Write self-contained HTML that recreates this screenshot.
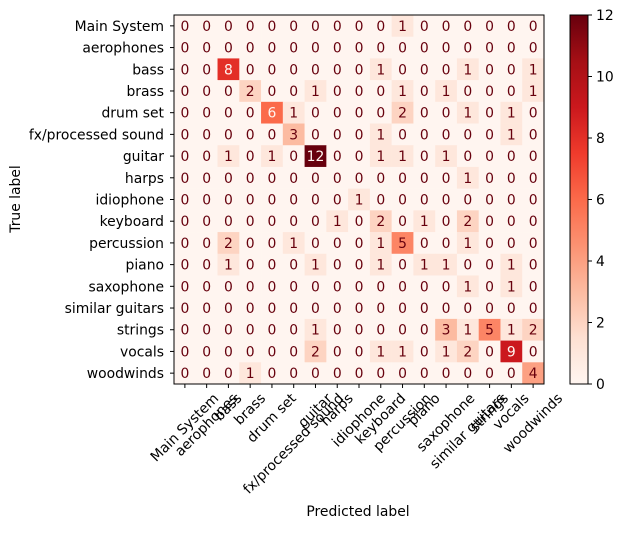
<!DOCTYPE html>
<html><head><meta charset="utf-8"><style>
body{margin:0;background:#fff;}
svg{font-family:"DejaVu Sans","Liberation Sans",sans-serif;}
</style></head><body>
<svg id="chart" width="624" height="529" viewBox="0 0 624 529">
<defs>
<linearGradient id="reds" x1="0" y1="1" x2="0" y2="0">
<stop offset="0" stop-color="#fff5f0"/><stop offset="0.125" stop-color="#fee0d2"/><stop offset="0.25" stop-color="#fcbba1"/><stop offset="0.375" stop-color="#fc9272"/><stop offset="0.5" stop-color="#fb6a4a"/><stop offset="0.625" stop-color="#ef3b2c"/><stop offset="0.75" stop-color="#cb181d"/><stop offset="0.875" stop-color="#a50f15"/><stop offset="1" stop-color="#67000d"/>
</linearGradient>
</defs>
<g id="cells"></g>
<rect x="174" y="15" width="370" height="369" fill="none" stroke="#000" stroke-width="1"/>
<g id="axes"></g>
<text x="358" y="516" text-anchor="middle" font-size="13.9">Predicted label</text>
<text x="0" y="0" text-anchor="middle" font-size="13.9" transform="translate(20,199) rotate(-90)">True label</text>
<rect x="570" y="15" width="18" height="369" fill="url(#reds)" stroke="#000" stroke-width="1"/>
<g id="cbar"></g>
</svg>
<script>
const labels=["Main System","aerophones","bass","brass","drum set","fx/processed sound","guitar","harps","idiophone","keyboard","percussion","piano","saxophone","similar guitars","strings","vocals","woodwinds"];
const matrix=[
[0,0,0,0,0,0,0,0,0,0,1,0,0,0,0,0,0],
[0,0,0,0,0,0,0,0,0,0,0,0,0,0,0,0,0],
[0,0,8,0,0,0,0,0,0,1,0,0,0,1,0,0,1],
[0,0,0,2,0,0,1,0,0,0,1,0,1,0,0,0,1],
[0,0,0,0,6,1,0,0,0,0,2,0,0,1,0,1,0],
[0,0,0,0,0,3,0,0,0,1,0,0,0,0,0,1,0],
[0,0,1,0,1,0,12,0,0,1,1,0,1,0,0,0,0],
[0,0,0,0,0,0,0,0,0,0,0,0,0,1,0,0,0],
[0,0,0,0,0,0,0,0,1,0,0,0,0,0,0,0,0],
[0,0,0,0,0,0,0,1,0,2,0,1,0,2,0,0,0],
[0,0,2,0,0,1,0,0,0,1,5,0,0,1,0,0,0],
[0,0,1,0,0,0,1,0,0,1,0,1,1,0,0,1,0],
[0,0,0,0,0,0,0,0,0,0,0,0,0,1,0,1,0],
[0,0,0,0,0,0,0,0,0,0,0,0,0,0,0,0,0],
[0,0,0,0,0,0,1,0,0,0,0,0,3,1,5,1,2],
[0,0,0,0,0,0,2,0,0,1,1,0,1,2,0,9,0],
[0,0,0,1,0,0,0,0,0,0,0,0,0,0,0,0,4]];
const cbarTicks=[0,2,4,6,8,10,12];
const vmin=0, vmax=12;
const X0=174,Y0=15,W=370,H=369,n=labels.length,cw=W/n,ch=H/n;
const stops=[[0,"#fff5f0"],[0.125,"#fee0d2"],[0.25,"#fcbba1"],[0.375,"#fc9272"],[0.5,"#fb6a4a"],[0.625,"#ef3b2c"],[0.75,"#cb181d"],[0.875,"#a50f15"],[1,"#67000d"]];
function hex(h){return [1,3,5].map(i=>parseInt(h.substr(i,2),16));}
function cmap(t){t=Math.max(0,Math.min(1,t));for(let i=0;i<stops.length-1;i++){const[a,ca]=stops[i],[b,cb]=stops[i+1];if(t<=b){const f=(t-a)/(b-a),A=hex(ca),B=hex(cb);return "rgb("+A.map((v,k)=>Math.round(v+(B[k]-v)*f)).join(",")+")";}}return stops[8][1];}
const xs=i=>X0+i*cw, ys=j=>Y0+j*ch;
const NS="http://www.w3.org/2000/svg";
function mk(tag,attrs,parent){const e=document.createElementNS(NS,tag);for(const k in attrs)e.setAttribute(k,attrs[k]);parent.appendChild(e);return e;}
const cells=document.getElementById('cells');
const thresh=(vmax+vmin)/2;
matrix.forEach((row,r)=>row.forEach((v,c)=>{
 const rc=mk('rect',{x:xs(c),y:ys(r),width:cw+0.3,height:ch+0.3,fill:cmap((v-vmin)/(vmax-vmin))},cells);
 
 
 const t=mk('text',{x:xs(c)+cw/2,y:ys(r)+ch/2+5,'text-anchor':'middle','font-size':'13.9',fill:v>=thresh?'#fff5f0':'#67000d'},cells);
 t.textContent=v;
 
 
}));
const axes=document.getElementById('axes');
labels.forEach((l,i)=>{
 const cy=ys(i)+ch/2;
 mk('line',{x1:X0-4,x2:X0,y1:cy,y2:cy,stroke:'#000'},axes);
 const yt=mk('text',{x:X0-10,y:cy+5,'text-anchor':'end','font-size':'13.9'},axes);
 yt.textContent=l;
 
 
 const cx=xs(i)+cw/2;
 mk('line',{x1:cx,x2:cx,y1:Y0+H,y2:Y0+H+4,stroke:'#000'},axes);
 const xt=mk('text',{'text-anchor':'middle','dominant-baseline':'central','font-size':'13.9'},axes);
 xt.textContent=l;
 
 
 const L=xt.getComputedTextLength();
 const half=(L*0.7071+15*0.7071)/2;
 xt.setAttribute('transform','translate('+cx+','+(Y0+H+7+half)+') rotate(-45)');
});
const cb=document.getElementById('cbar');
cbarTicks.forEach(v=>{
 const y=Y0+H-(v-vmin)/(vmax-vmin)*H;
 mk('line',{x1:588,x2:592,y1:y,y2:y,stroke:'#000'},cb);
 const t=mk('text',{x:596,y:y+5,'font-size':'13.9'},cb);
 t.textContent=v;
 
 
});
</script>
</body></html>
